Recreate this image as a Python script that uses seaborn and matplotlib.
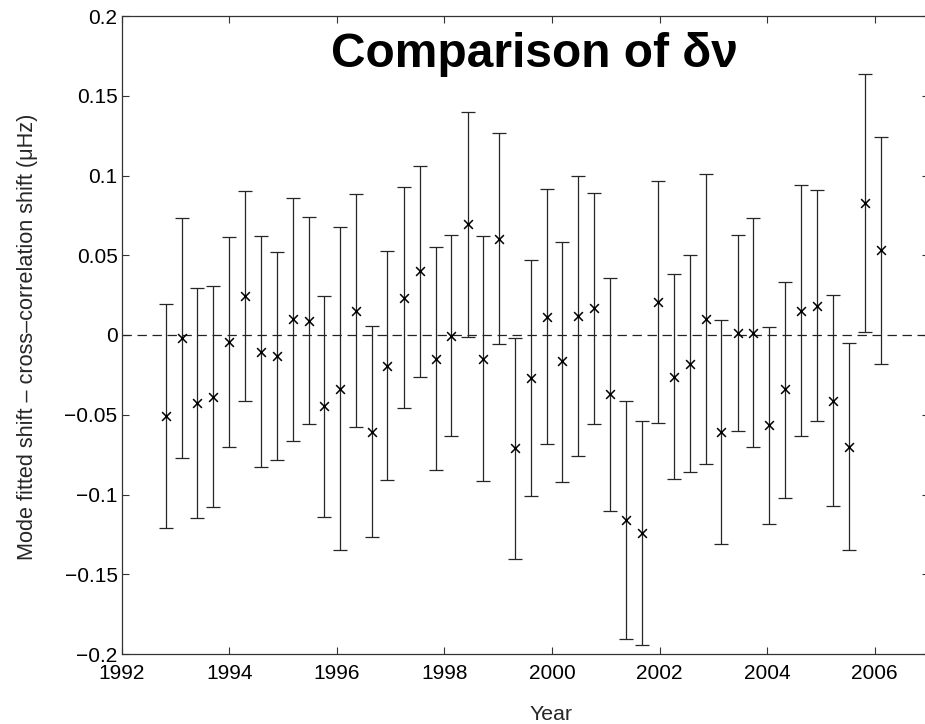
import matplotlib
matplotlib.use("Agg")
import matplotlib.pyplot as plt
import pandas as pd
import seaborn as sns

# ---- data ----
years = [1992.82, 1993.12, 1993.40, 1993.69, 1993.99, 1994.29, 1994.59, 1994.88,
         1995.18, 1995.48, 1995.77, 1996.06, 1996.36, 1996.65, 1996.94, 1997.25,
         1997.54, 1997.84, 1998.13, 1998.44, 1998.72, 1999.02, 1999.31, 1999.61,
         1999.91, 2000.19, 2000.49, 2000.78, 2001.08, 2001.37, 2001.67, 2001.97,
         2002.27, 2002.56, 2002.86, 2003.15, 2003.45, 2003.74, 2004.04, 2004.34,
         2004.63, 2004.92, 2005.23, 2005.52, 2005.82, 2006.11]
shift = [-0.0506, -0.0021, -0.0428, -0.0387, -0.0042, 0.0247, -0.0104, -0.0130,
         0.0100, 0.0090, -0.0445, -0.0336, 0.0150, -0.0606, -0.0194, 0.0234,
         0.0401, -0.0148, -0.0004, 0.0696, -0.0148, 0.0602, -0.0710, -0.0272,
         0.0115, -0.0166, 0.0118, 0.0167, -0.0373, -0.1163, -0.1240, 0.0209,
         -0.0263, -0.0180, 0.0098, -0.0606, 0.0015, 0.0015, -0.0566, -0.0340,
         0.0150, 0.0184, -0.0412, -0.0700, 0.0826, 0.0533]
upper = [0.0196, 0.0731, 0.0293, 0.0307, 0.0617, 0.0901, 0.0621, 0.0522,
         0.0859, 0.0740, 0.0247, 0.0677, 0.0882, 0.0058, 0.0524, 0.0926,
         0.1062, 0.0552, 0.0627, 0.1400, 0.0621, 0.1268, -0.0017, 0.0468,
         0.0913, 0.0582, 0.0999, 0.0889, 0.0357, -0.0416, -0.0540, 0.0967,
         0.0383, 0.0500, 0.1009, 0.0096, 0.0629, 0.0731, 0.0050, 0.0334,
         0.0942, 0.0907, 0.0249, -0.0052, 0.1634, 0.1243]
lower = [-0.1208, -0.0773, -0.1145, -0.1081, -0.0700, -0.0412, -0.0828, -0.0784,
         -0.0663, -0.0560, -0.1139, -0.1348, -0.0577, -0.1264, -0.0911, -0.0460,
         -0.0261, -0.0846, -0.0631, -0.0010, -0.0913, -0.0058, -0.1406, -0.1011,
         -0.0681, -0.0920, -0.0761, -0.0557, -0.1102, -0.1907, -0.1943, -0.0549,
         -0.0903, -0.0861, -0.0811, -0.1310, -0.0600, -0.0700, -0.1183, -0.1020,
         -0.0635, -0.0541, -0.1072, -0.1348, 0.0021, -0.0180]

x_ticks = [1992, 1994, 1996, 1998, 2000, 2002, 2004, 2006]
x_tick_labels = ["1992", "1994", "1996", "1998", "2000", "2002", "2004", "2006"]
y_ticks = [0.2, 0.15, 0.1, 0.05, 0.0, -0.05, -0.1, -0.15, -0.2]
y_tick_labels = ["0.2", "0.15", "0.1", "0.05", "0", "\u22120.05", "\u22120.1",
                 "\u22120.15", "\u22120.2"]

title_text = "Comparison of \u03b4\u03bd"
x_label = "Year"
y_label = "Mode fitted shift \u2013 cross\u2013correlation shift (\u03bcHz)"

# ---- style ----
sns.set_theme(style="ticks")
plt.rcParams["font.family"] = ["Liberation Sans", "DejaVu Sans"]

W, H = 925, 724
fig = plt.figure(figsize=(W / 100, H / 100), dpi=100)
ax_left, ax_right, ax_top, ax_bottom = 121.7, 928.5, 16.0, 654.0
ax = fig.add_axes([ax_left / W, (H - ax_bottom) / H,
                   (ax_right - ax_left) / W, (ax_bottom - ax_top) / H])

df = pd.DataFrame({"Year": years, "Shift": shift, "Upper": upper, "Lower": lower})
err_lo = df["Shift"] - df["Lower"]
err_hi = df["Upper"] - df["Shift"]

ax.axhline(0, color="#222222", lw=0.9, ls=(0, (7.5, 4.5)), zorder=1)
ax.errorbar(df["Year"], df["Shift"], yerr=[err_lo, err_hi], fmt="none",
            ecolor="#262626", elinewidth=0.9, capsize=5, capthick=0.9, zorder=2)
sns.scatterplot(data=df, x="Year", y="Shift", marker="x", color="black",
                s=40, linewidth=1.1, ax=ax, zorder=3, legend=False)

ax.set_xlim(1992, 2007)
ax.set_ylim(-0.2, 0.2)
ax.set_xticks(x_ticks)
ax.set_xticklabels(x_tick_labels)
ax.set_yticks(y_ticks)
ax.set_yticklabels(y_tick_labels)

for sp in ax.spines.values():
    sp.set_visible(True)
    sp.set_linewidth(0.9)
    sp.set_color("#333333")

ax.tick_params(axis="both", direction="in", length=5, width=0.8, color="#333333",
               top=True, right=True, labelsize=15, labelcolor="black")
ax.tick_params(axis="x", pad=7)
ax.tick_params(axis="y", pad=3)

ax.set_xlabel(x_label, fontsize=15.3)
ax.set_ylabel(y_label, fontsize=15.6)
ax.xaxis.set_label_coords(0.532, -0.080)
ax.yaxis.set_label_coords(-0.1041, 0.4977)

ax.text(0.511, 0.920, title_text, transform=ax.transAxes, ha="center",
        va="baseline", fontsize=34.5, fontweight="bold", color="black")

fig.savefig("out.png", dpi=100)
